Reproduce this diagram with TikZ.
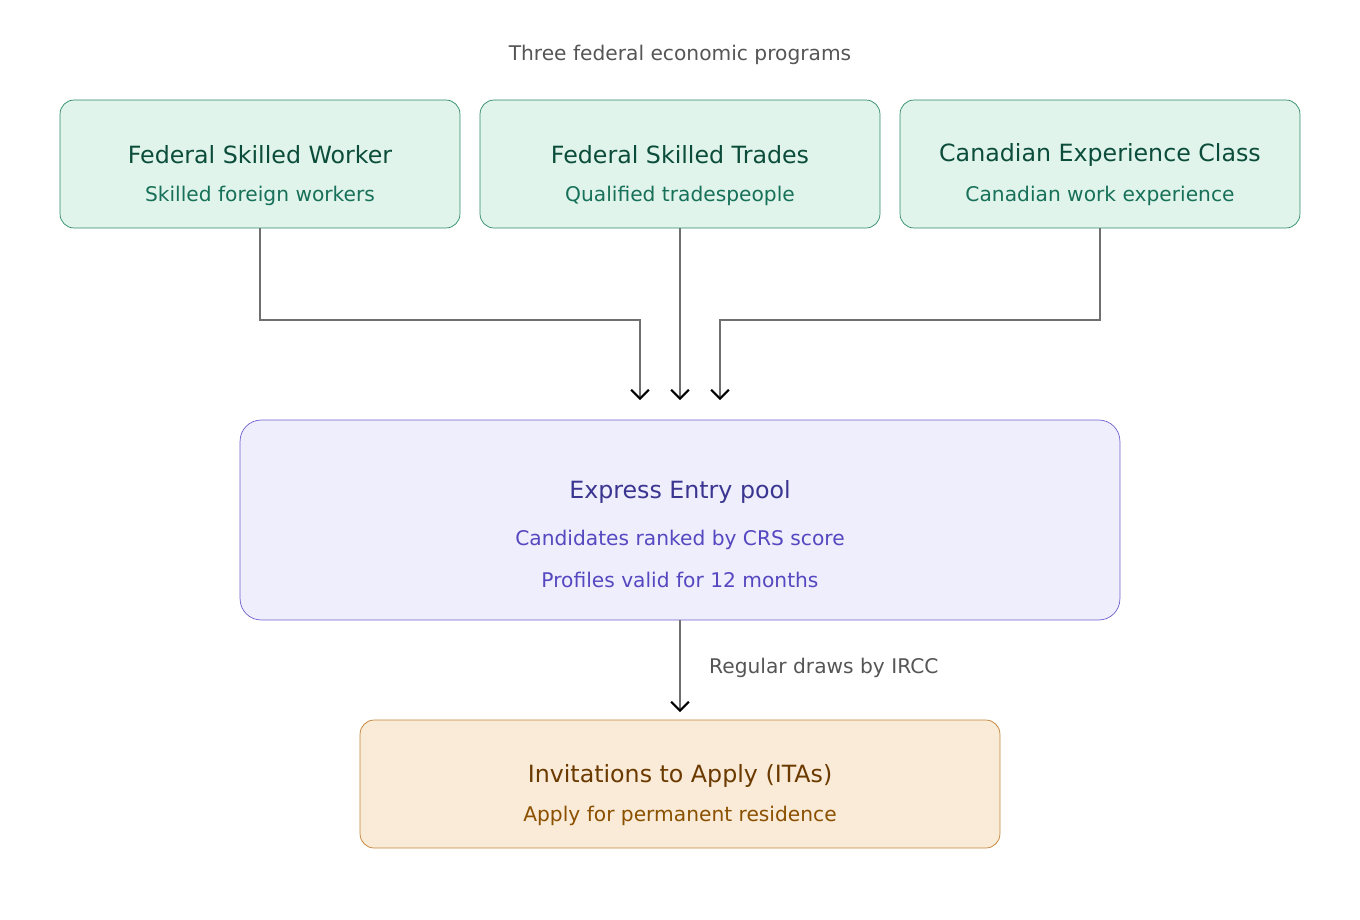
\documentclass[tikz,border=0pt]{standalone}
\usepackage{fontspec}
\setmainfont{DejaVu Sans}
\usetikzlibrary{arrows.meta,positioning,calc}
\definecolor{grnfill}{HTML}{E0F4EC}
\definecolor{grnline}{HTML}{2A8A68}
\definecolor{grntitle}{HTML}{0B4D3A}
\definecolor{grnsub}{HTML}{177058}
\definecolor{purfill}{HTML}{EEEEFC}
\definecolor{purline}{HTML}{7060D0}
\definecolor{purtitle}{HTML}{3A3590}
\definecolor{pursub}{HTML}{5548C0}
\definecolor{orgfill}{HTML}{FAEBD8}
\definecolor{orgline}{HTML}{C08030}
\definecolor{orgtitle}{HTML}{6B3A00}
\definecolor{orgsub}{HTML}{8A5000}
\definecolor{linegray}{HTML}{707070}
\definecolor{txtgray}{HTML}{555555}
\tikzset{
  prog/.style={draw=grnline, fill=grnfill, rounded corners=8pt, minimum width=8cm, minimum height=2.56cm, inner sep=0pt},
  flow/.style={draw=linegray, line width=1.2pt, -{Straight Barb[length=5pt,width=10pt,color=black]}},
  ttl/.style={font=\fontsize{13.5}{16}\selectfont},
  sub/.style={font=\fontsize{11.5}{14}\selectfont}
}
\begin{document}
\begin{tikzpicture}[x=0.02cm,y=-0.02cm]
\useasboundingbox (0,0) rectangle (1360,920);

% heading
\node[txtgray, font=\fontsize{11.5}{14}\selectfont] (head) at (680,55) {Three federal economic programs};

% programs
\node[prog] (fsw) at (260,164) {};
\node[ttl, grntitle] at (260,155) {Federal Skilled Worker};
\node[sub, grnsub] at (260,196) {Skilled foreign workers};

\node[prog] (fst) at (680,164) {};
\node[ttl, grntitle] at (680,155) {Federal Skilled Trades};
\node[sub, grnsub] at (680,196) {Qualified tradespeople};

\node[prog] (cec) at (1100,164) {};
\node[ttl, grntitle] at (1100,155) {Canadian Experience Class};
\node[sub, grnsub] at (1100,196) {Canadian work experience};

% pool
\node[draw=purline, fill=purfill, rounded corners=12pt, minimum width=17.6cm, minimum height=4cm] (pool) at (680,520) {};
\node[ttl, purtitle] at (680,492) {Express Entry pool};
\node[sub, pursub] at (680,540) {Candidates ranked by CRS score};
\node[sub, pursub] at (680,580) {Profiles valid for 12 months};

% invitations
\node[draw=orgline, fill=orgfill, rounded corners=8pt, minimum width=12.8cm, minimum height=2.56cm] (ita) at (680,784) {};
\node[ttl, orgtitle] at (680,776) {Invitations to Apply (ITAs)};
\node[sub, orgsub] at (680,816) {Apply for permanent residence};

% connectors
\coordinate (inL) at (640,400);
\coordinate (inM) at (680,400);
\coordinate (inR) at (720,400);
\coordinate (inI) at (680,712);
\draw[flow] (fsw.south) |- (640,320) -- (inL);
\draw[flow] (fst.south) -- (inM);
\draw[flow] (cec.south) |- (720,320) -- (inR);
\draw[flow] (pool.south) -- (inI);
\node[txtgray, sub, anchor=west] (draws) at (703,668) {Regular draws by IRCC};
\end{tikzpicture}
\end{document}
